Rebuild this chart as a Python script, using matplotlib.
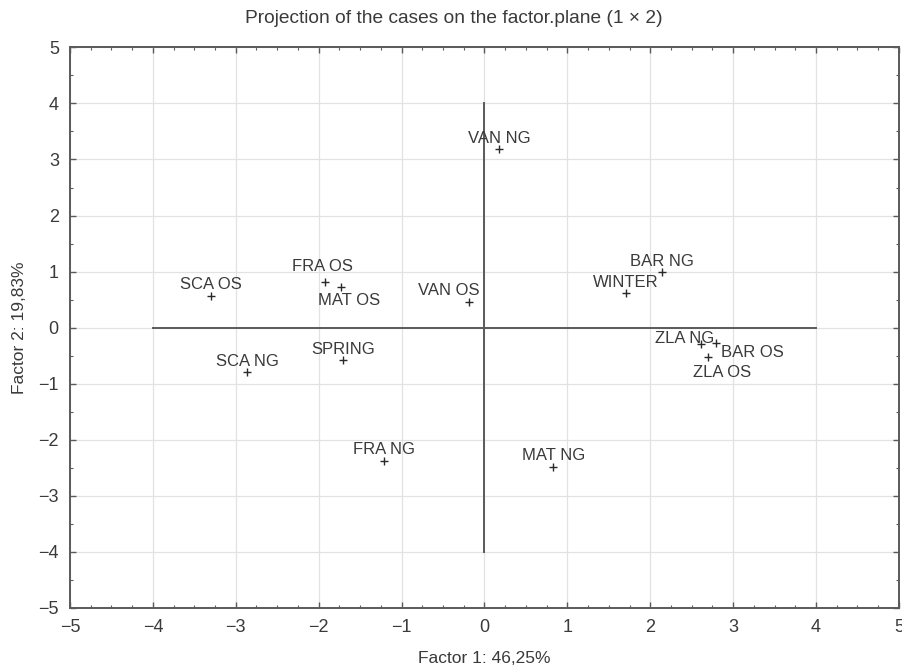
import matplotlib
matplotlib.use('Agg')
import matplotlib.pyplot as plt
from matplotlib.ticker import MultipleLocator

plt.rcParams['font.family'] = ['Liberation Sans', 'DejaVu Sans']

# case coordinates on factor plane
labels = ['VAN NG', 'FRA OS', 'MAT OS', 'SCA OS', 'VAN OS', 'SCA NG', 'SPRING',
          'BAR NG', 'WINTER', 'ZLA NG', 'BAR OS', 'ZLA OS', 'FRA NG', 'MAT NG']
f1 = [0.18, -1.92, -1.73, -3.30, -0.19, -2.86, -1.71,
      2.14, 1.71, 2.61, 2.79, 2.70, -1.21, 0.83]
f2 = [3.18, 0.82, 0.72, 0.57, 0.45, -0.80, -0.58,
      0.99, 0.61, -0.30, -0.28, -0.53, -2.38, -2.48]

# label offsets in pixels (dx, dy), default is centered above the point
offsets = {'FRA OS': (-3, 15), 'MAT OS': (8, -13), 'VAN OS': (-20, 12),
           'ZLA NG': (-16, 6), 'BAR OS': (37, -9), 'ZLA OS': (14, -15)}

txt = '#3a3a3a'
axc = '#5a5a5a'

fig = plt.figure(figsize=(9.03, 6.71), dpi=100)
ax = fig.add_axes([0.0775, 0.0943, 0.918, 0.835])

ax.set_xlim(-5, 5)
ax.set_ylim(-5, 5)
ax.xaxis.set_major_locator(MultipleLocator(1))
ax.xaxis.set_minor_locator(MultipleLocator(0.25))
ax.yaxis.set_major_locator(MultipleLocator(1))
ax.yaxis.set_minor_locator(MultipleLocator(0.5))
ax.grid(True, which='major', color='#e2e2e2', linewidth=0.9)
ax.set_axisbelow(True)

# cross through origin
ax.plot([-4, 4], [0, 0], color=axc, linewidth=1.4, zorder=2)
ax.plot([0, 0], [-4, 4], color=axc, linewidth=1.4, zorder=2)

ax.plot(f1, f2, linestyle='none', marker='+', markersize=6,
        markeredgewidth=1.0, color='#2a2a2a', zorder=3)

for lab, x, y in zip(labels, f1, f2):
    dx, dy = offsets.get(lab, (0, 11))
    ax.annotate(lab, (x, y), xytext=(dx, dy), textcoords='offset pixels',
                ha='center', va='center', fontsize=12, color=txt, zorder=4)

for s in ax.spines.values():
    s.set_color(axc)
    s.set_linewidth(1.4)
ax.tick_params(which='both', direction='in', top=True, right=True,
               colors=axc, labelcolor=txt, labelsize=13, pad=8)
ax.tick_params(which='major', length=4, width=1.0)
ax.tick_params(which='minor', length=2.5, width=0.8)

# title is centred on the figure, not the axes
fig.suptitle('Projection of the cases on the factor.plane (1 × 2)',
             x=0.503, y=0.973, va='center', fontsize=13.8, color=txt)
ax.set_xlabel('Factor 1: 46,25%', fontsize=12.5, color=txt, labelpad=11)
ax.set_ylabel('Factor 2: 19,83%', fontsize=12.5, color=txt, labelpad=8)

plt.savefig('out.png', dpi=100)
